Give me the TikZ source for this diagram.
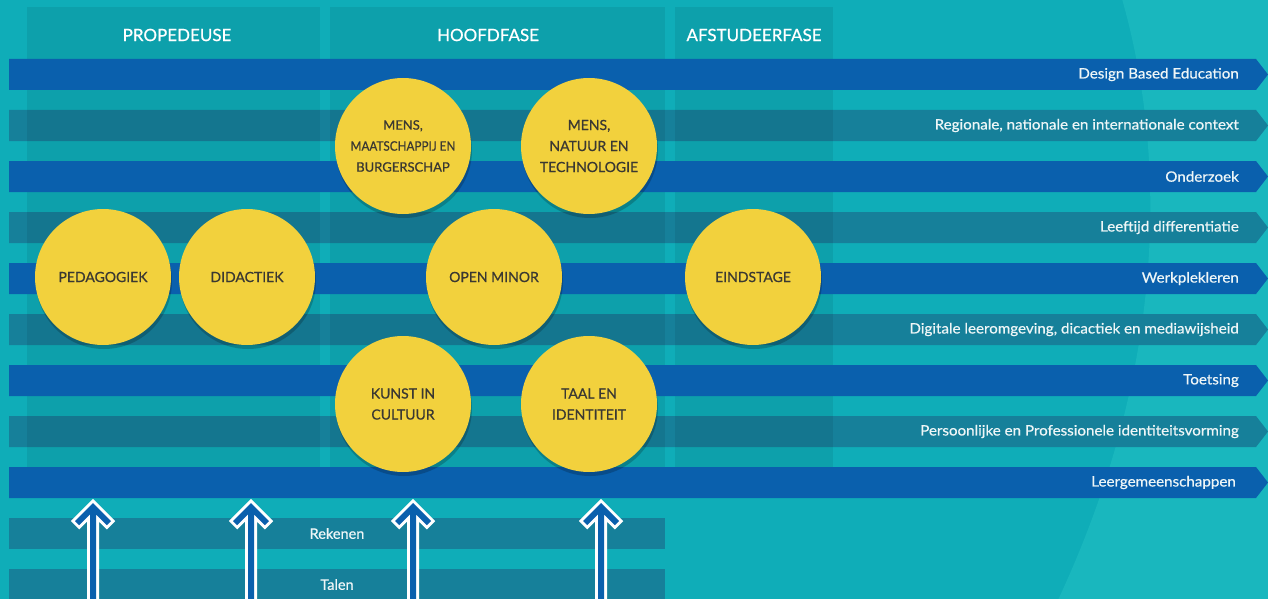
\documentclass[tikz,border=0pt]{standalone}
\usepackage{fontspec}
\setmainfont{Lato}
\newfontfamily\medfont{Lato}[FakeBold=0.7]
\newfontfamily\lblfont{Lato}[FakeBold=0.6, FakeStretch=1.06]
\definecolor{bgdark}{HTML}{0FADB8}
\definecolor{bglight}{HTML}{19B7BE}
\definecolor{bandblue}{HTML}{0A60AD}
\definecolor{bandteal}{HTML}{16809A}
\definecolor{discyellow}{HTML}{F2D13D}
\definecolor{textdark}{HTML}{3A3832}
\definecolor{labelwhite}{HTML}{EEF6F7}
\begin{document}
\begin{tikzpicture}[x=1pt,y=-1pt,
  lbl/.style={text=labelwhite, font=\lblfont\fontsize{14.3}{15}\selectfont, anchor=east, inner sep=0pt},
  lowlbl/.style={text=labelwhite, font=\medfont\fontsize{14.5}{15}\selectfont, inner sep=0pt},
  hdr/.style={text=white, font=\medfont\fontsize{17}{18}\selectfont, inner sep=0pt},
  disc/.style={circle, fill=discyellow, minimum size=136pt, inner sep=0pt, text=textdark,
    font=\medfont\fontsize{14}{21}\selectfont, align=center},
  smalldisc/.style={disc, font=\medfont\fontsize{13}{21}\selectfont},
  discshadow/.style={fill=black, opacity=.2},
  colshade/.style={fill=black, opacity=.07},
  arrowout/.style={draw=white, line width=6pt, line join=miter},
  arrowin/.style={fill=bandblue}]
\useasboundingbox (0,0) rectangle (1268,599);
% background
\fill[bgdark] (0,0) rectangle (1268,599);
\fill[bglight] (1122,-1) .. controls (1165,150) and (1170,360) .. (1058,600) -- (1269,600) -- (1269,-1) -- cycle;
% teal bands
\foreach \t in {110,212,314,416}{
  \fill[bandteal] (9,\t) -- (1256,\t) -- (1268,\t+15.5) -- (1256,\t+31) -- (9,\t+31) -- cycle;
}
% columns
\fill[colshade] (27,7) rectangle (320,497);
\fill[colshade] (330,7) rectangle (665,497);
\fill[colshade] (675,7) rectangle (833,497);
% blue bands
\foreach \t in {59,161,263,365,467}{
  \fill[bandblue] (9,\t) -- (1256,\t) -- (1268,\t+15.5) -- (1256,\t+31) -- (9,\t+31) -- cycle;
}
% headers
\node[hdr] (hprop) at (177,35) {PROPEDEUSE};
\node[hdr] (hhoofd) at (488,35) {HOOFDFASE};
\node[hdr] (hafst) at (754,35) {AFSTUDEERFASE};
% band labels
\node[lbl] (l1) at (1239,74.5) {Design Based Education};
\node[lbl] (l2) at (1239,125.5) {Regionale, nationale en internationale context};
\node[lbl] (l3) at (1239,176.5) {Onderzoek};
\node[lbl] (l4) at (1239,227.5) {Leeftijd differentiatie};
\node[lbl] (l5) at (1239,278.5) {Werkplekleren};
\node[lbl] (l6) at (1239,329.5) {Digitale leeromgeving, dicactiek en mediawijsheid};
\node[lbl] (l7) at (1239,380.5) {Toetsing};
\node[lbl] (l8) at (1239,431.5) {Persoonlijke en Professionele identiteitsvorming};
\node[lbl] (l9) at (1236,482.5) {Leergemeenschappen};
% lower bands
\fill[bandteal] (9,518) rectangle (665,549);
\fill[bandteal] (9,569) rectangle (665,600);
\node[lowlbl] (rek) at (337,533.5) {Rekenen};
\node[lowlbl] (tal) at (337,584.5) {Talen};
% disc shadows
\foreach \x/\y in {103/277,247/277,403/146,589/146,494/277,753/277,403/404,589/404}{
  \fill[discshadow] (\x+1,\y+4) circle (68);
}
% discs
\node[disc] (ped) at (103,277) {PEDAGOGIEK};
\node[disc] (did) at (247,277) {DIDACTIEK};
\node[smalldisc] (mmb) at (403,146) {MENS,\\\scalebox{0.9}[1]{MAATSCHAPPIJ EN}\\BURGERSCHAP};
\node[disc] (mnt) at (589,146) {MENS,\\NATUUR EN\\TECHNOLOGIE};
\node[disc] (om) at (494,277) {OPEN MINOR};
\node[disc] (eind) at (753,277) {EINDSTAGE};
\node[disc] (kc) at (403,404) {KUNST IN\\CULTUUR};
\node[disc] (ti) at (589,404) {TAAL EN\\IDENTITEIT};
% arrows
\foreach \x in {93,251,413,601}{
  \coordinate (a\x) at (\x,503);
  \draw[arrowout] (a\x) -- ++(18,18) -- ++(-4.2,4.2) -- ++(-10.8,-10.8) -- ++(0,95) -- ++(-6,0) -- ++(0,-95) -- ++(-10.8,10.8) -- ++(-4.2,-4.2) -- cycle;
  \fill[arrowin] (a\x) -- ++(18,18) -- ++(-4.2,4.2) -- ++(-10.8,-10.8) -- ++(0,95) -- ++(-6,0) -- ++(0,-95) -- ++(-10.8,10.8) -- ++(-4.2,-4.2) -- cycle;
}
\end{tikzpicture}
\end{document}
